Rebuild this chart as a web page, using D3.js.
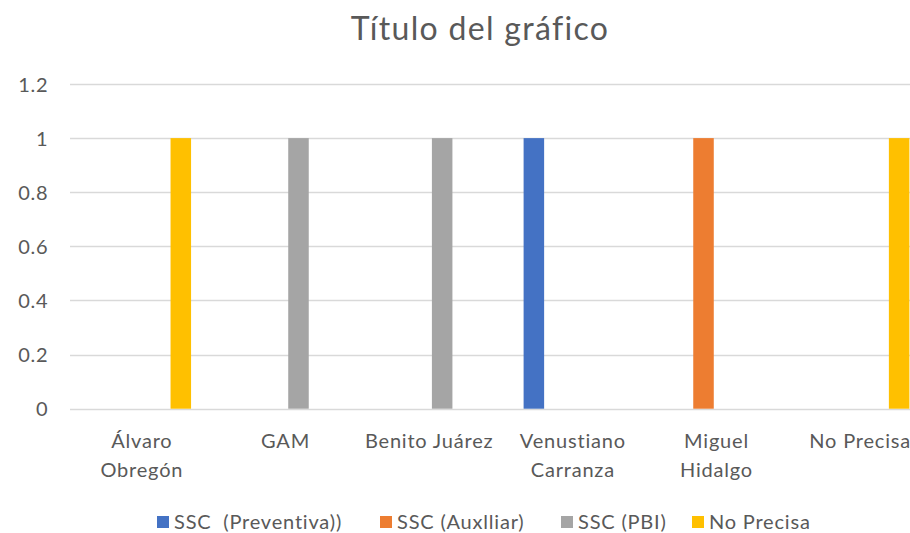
<!DOCTYPE html>
<html>
<head>
<meta charset="utf-8">
<script src="https://cdn.jsdelivr.net/npm/d3@7"></script>
<style>
  html, body { margin: 0; padding: 0; background: #fff; }
  svg { display: block; }
  text { font-family: Lato, "Open Sans", sans-serif; fill: #595959; white-space: pre; }
</style>
</head>
<body>
<svg id="chart" width="910" height="533"></svg>
<script>
const title = "Título del gráfico";
const categories = ["Álvaro Obregón", "GAM", "Benito Juárez", "Venustiano Carranza", "Miguel Hidalgo", "No Precisa"];
const categoryLines = [["Álvaro", "Obregón"], ["GAM"], ["Benito Juárez"], ["Venustiano", "Carranza"], ["Miguel", "Hidalgo"], ["No Precisa"]];
const seriesNames = ["SSC  (Preventiva))", "SSC (Auxlliar)", "SSC (PBI)", "No Precisa"];
const seriesColors = ["#4472C4", "#ED7D31", "#A5A5A5", "#FFC000"];
const preventiva = [0, 0, 0, 1, 0, 0];
const auxiliar = [0, 0, 0, 0, 1, 0];
const pbi = [0, 1, 1, 0, 0, 0];
const noPrecisa = [1, 0, 0, 0, 0, 1];
const seriesValues = [preventiva, auxiliar, pbi, noPrecisa];
const yTicks = [0, 0.2, 0.4, 0.6, 0.8, 1, 1.2];

const svg = d3.select("#chart");
const plot = { left: 70, right: 932, top: 84, bottom: 408.7 };
const labelFont = "20px";
const labelSpacing = "0.8px";

const x0 = d3.scaleBand().domain(categories).range([plot.left, plot.right]).padding(0);
const groupOffset = 22.6;
const x1 = d3.scaleBand().domain(seriesNames)
  .range([groupOffset, x0.bandwidth() - groupOffset])
  .paddingInner(0.21).paddingOuter(0);
const y = d3.scaleLinear().domain([0, 1.2]).range([plot.bottom, plot.top]);

// gridlines
svg.append("g").selectAll("line").data(yTicks).join("line")
  .attr("x1", plot.left).attr("x2", plot.right)
  .attr("y1", d => Math.round(y(d)) + 0.5).attr("y2", d => Math.round(y(d)) + 0.5)
  .attr("stroke", "#D9D9D9").attr("stroke-width", 1.3);

// y axis labels
const yAxis = d3.axisLeft(y).tickValues(yTicks).tickSize(0).tickPadding(0)
  .tickFormat(d => String(+d.toFixed(1)));
const gy = svg.append("g").attr("transform", `translate(${48.5},0)`).call(yAxis);
gy.select(".domain").remove();
gy.selectAll("text").style("font-size", labelFont).style("letter-spacing", labelSpacing)
  .attr("fill", "#595959").style("font-family", "Lato, sans-serif").attr("dy", "0.36em");

// bars
const data = [];
categories.forEach((c, i) => {
  seriesNames.forEach((s, j) => {
    data.push({ cat: c, series: s, value: seriesValues[j][i], color: seriesColors[j] });
  });
});
svg.append("g").selectAll("rect").data(data).join("rect")
  .attr("x", d => x0(d.cat) + x1(d.series))
  .attr("width", x1.bandwidth())
  .attr("y", d => y(d.value))
  .attr("height", d => y(0) - y(d.value))
  .attr("fill", d => d.color);

// x axis labels
const xAxis = d3.axisBottom(x0).tickSize(0).tickFormat("");
const gx = svg.append("g").attr("transform", `translate(0,${plot.bottom})`).call(xAxis);
gx.select(".domain").remove();
gx.selectAll(".tick").each(function (d, i) {
  const t = d3.select(this).append("text")
    .attr("text-anchor", "middle")
    .attr("fill", "#595959")
    .style("font-size", labelFont).style("letter-spacing", labelSpacing);
  categoryLines[i].forEach((line, k) => {
    t.append("tspan").attr("x", 0).attr("y", 39.5 + k * 28.5).text(line);
  });
});

// title
svg.append("text").attr("x", 480).attr("y", 40).attr("text-anchor", "middle")
  .style("font-size", "32px").style("letter-spacing", "1.3px").attr("fill", "#595959").text(title);

// legend
const legendX = [157, 380, 561, 692];
const leg = svg.append("g").selectAll("g").data(seriesNames).join("g")
  .attr("transform", (d, i) => `translate(${legendX[i]},516)`);
leg.append("rect").attr("width", 12).attr("height", 12).attr("fill", (d, i) => seriesColors[i]);
leg.append("text").attr("x", 17).attr("y", 13).style("font-size", labelFont)
  .style("letter-spacing", labelSpacing).attr("fill", "#595959").text(d => d);
</script>
</body>
</html>
